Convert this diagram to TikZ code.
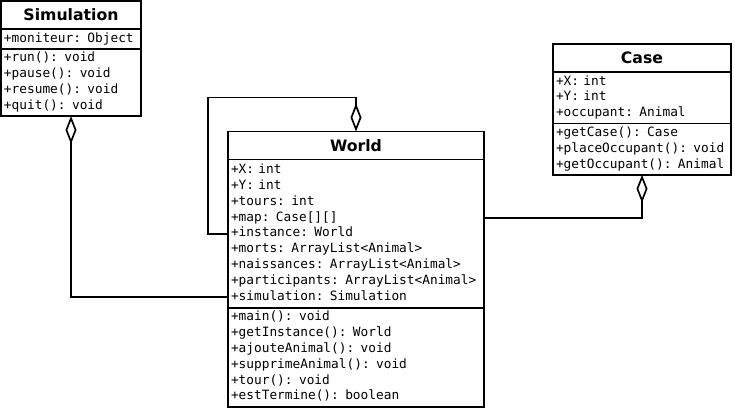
\documentclass[tikz,border=0pt]{standalone}
\usepackage{fontspec}
\newfontfamily\umlsans{DejaVu Sans}
\newfontfamily\umlmono{DejaVu Sans Mono}
\usetikzlibrary{positioning,arrows.meta}

\tikzset{
  classname/.style={draw, line width=1.7pt, outer sep=0pt, inner sep=0pt,
    anchor=north west, minimum height=28pt,
    font={\umlsans\bfseries\fontsize{15.7}{18}\selectfont}},
  classpart/.style={draw, line width=1.7pt, outer sep=0pt, inner xsep=3pt,
    inner ysep=2pt, align=left,
    font={\umlmono\fontsize{12.8}{15.8}\selectfont\spaceskip=0.602em\relax},
    execute at begin node=\strut, execute at end node=\strut},
  aggr/.style={line width=1.7pt, {Diamond[open,length=28pt,width=11pt]}-}
}

\begin{document}
\begin{tikzpicture}[x=1pt, y=-1pt]
\useasboundingbox (0,0) rectangle (735,409);

% Simulation
\node[classname, minimum width=140pt] (simT) at (1,1) {Simulation};
\node[classpart, text width=134pt, below=0pt of simT] (simA)
  {+moniteur: Object};
\node[classpart, text width=134pt, below=0pt of simA] (simM)
  {+run(): void\\+pause(): void\\+resume(): void\\+quit(): void};

% World
\node[classname, minimum width=256pt] (worldT) at (228,131.5) {World};
\node[classpart, text width=250pt, minimum height=148.4pt, below=0pt of worldT] (worldA)
  {+X: int\\+Y: int\\+tours: int\\+map: Case[][]\\+instance: World\\
   +morts: ArrayList<Animal>\\+naissances: ArrayList<Animal>\\
   +participants: ArrayList<Animal>\\+simulation: Simulation};
\node[classpart, text width=250pt, below=0pt of worldA] (worldM)
  {+main(): void\\+getInstance(): World\\+ajouteAnimal(): void\\
   +supprimeAnimal(): void\\+tour(): void\\+estTermine(): boolean};

% Case
\node[classname, minimum width=178pt] (caseT) at (553,44) {Case};
\node[classpart, text width=172pt, below=0pt of caseT] (caseA)
  {+X: int\\+Y: int\\+occupant: Animal};
\node[classpart, text width=172pt, below=0pt of caseA] (caseM)
  {+getCase(): Case\\+placeOccupant(): void\\+getOccupant(): Animal};

% aggregations
\draw[aggr] (simM.south) |- ([yshift=11pt]worldA.south west);
\draw[aggr] (worldT.north) -- ++(0,-34) -| ([xshift=-20pt]worldA.west) -- (worldA.west);
\draw[aggr] (caseM.south) |- ([yshift=16pt]worldA.east);
\end{tikzpicture}
\end{document}
